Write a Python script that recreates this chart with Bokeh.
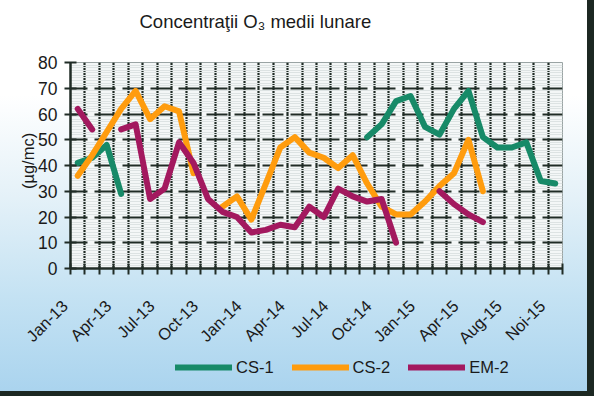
import math
import numpy as np
from bokeh.plotting import figure
from bokeh.layouts import column
from bokeh.models import FixedTicker, Legend, LegendItem, Range1d, ColumnDataSource
from bokeh.embed import file_html
from bokeh.resources import INLINE

# ---- data -------------------------------------------------------------
months = ["Jan-13", "Feb-13", "Mar-13", "Apr-13", "May-13", "Jun-13", "Jul-13", "Aug-13",
          "Sep-13", "Oct-13", "Nov-13", "Dec-13",
          "Jan-14", "Feb-14", "Mar-14", "Apr-14", "May-14", "Jun-14", "Jul-14", "Aug-14",
          "Sep-14", "Oct-14", "Nov-14", "Dec-14",
          "Jan-15", "Feb-15", "Mar-15", "Apr-15", "May-15", "Jul-15", "Aug-15", "Sep-15",
          "Oct-15", "Noi-15"]

cs1 = [41, 43, 48, 29, None, None, None, None, None, None, None, None,
       None, None, None, None, None, None, None, None,
       51, 56, 65, 67, 55, 52, 62, 69, 51, 47, 47, 49, 34, 33]
cs2 = [36, 44, 53, 62, 69, 58, 63, 61, 37, None, 24, 28,
       19, 33, 47, 51, 45, 43, 39, 44, 33, 24, 21, 21,
       26, 32, 37, 50, 30, None, None, None, None, None]
em2 = [62, 54, None, 54, 56, 27, 31, 49, 41, 27, 22, 20,
       14, 15, 17, 16, 24, 20, 31, 28, 26, 27, 10, None,
       None, 30, 25, 21, 18, None, None, None, None, None]

series_names = ["CS-1", "CS-2", "EM-2"]
series_colors = ["#178a68", "#ff9c0e", "#a3195f"]
y_ticks = [0, 10, 20, 30, 40, 50, 60, 70, 80]
title_text = "Concentra\u0163ii O\u2083 medii  lunare"
y_title = "\u00a0\u00a0(\u00b5g/mc)"

# ---- layout constants ---------------------------------------------------
FONT = "Liberation Sans"
DARK = "#202c26"
TXT = "#1a1a1a"
W = 594
H_TITLE = 44
H_MAIN = 312
H_LEG = 40
PAD = "\u00a0\u00a0"   # keeps rotated labels' ends just left of their tick

x = list(range(len(months)))
n = len(months)


def bare(fig):
    fig.border_fill_color = None
    fig.background_fill_color = None
    fig.outline_line_color = None
    fig.grid.visible = False


# ---- title strip ----------------------------------------------------------
pt = figure(width=W, height=H_TITLE, output_backend="svg", toolbar_location=None,
            x_axis_location=None, y_axis_location=None,
            x_range=Range1d(0, 1), y_range=Range1d(0, 1), min_border=0, title=title_text)
bare(pt)
pt.title.align = "left"
pt.title.offset = 69
pt.title.standoff = 17
pt.title.text_font = FONT
pt.title.text_font_size = "18.5px"
pt.title.text_font_style = "normal"
pt.title.text_color = TXT
pt.line([-2, -1], [-2, -2], line_alpha=0)

# ---- main chart -----------------------------------------------------------
p = figure(width=W, height=H_MAIN, output_backend="svg", toolbar_location=None,
           x_range=Range1d(-0.5, n - 0.5), y_range=Range1d(0, 80),
           min_border_left=70, min_border_right=32, min_border_top=18,
           min_border_bottom=88)
p.border_fill_color = None
p.background_fill_color = "#f4f7f7"
p.outline_line_color = "#9aa4a4"
p.outline_line_width = 1

boundaries = [i - 0.5 for i in range(n + 1)]
p.xgrid.ticker = FixedTicker(ticks=boundaries)
p.xgrid.grid_line_color = DARK
p.xgrid.grid_line_width = 2.2

p.ygrid.ticker = FixedTicker(ticks=y_ticks, minor_ticks=[v for v in range(0, 81) if v % 10])
p.ygrid.grid_line_color = DARK
p.ygrid.grid_line_width = 2.2
p.ygrid.grid_line_dash = "21 7"
p.ygrid.grid_line_dash_offset = 4
p.ygrid.minor_grid_line_color = "#dde3e3"
p.ygrid.minor_grid_line_width = 1

xa = p.xaxis[0]
label_idx = list(range(0, n, 3))
label_pos = [i - 0.45 for i in label_idx]
xa.ticker = FixedTicker(ticks=label_pos, minor_ticks=boundaries)
xa.major_label_overrides = {pos: months[i] + PAD for pos, i in zip(label_pos, label_idx)}
xa.major_label_orientation = math.pi / 4
xa.major_tick_line_color = None
xa.major_tick_out = 6
xa.major_label_standoff = 22
xa.minor_tick_in = 5
xa.minor_tick_out = 6
xa.minor_tick_line_color = DARK
xa.minor_tick_line_width = 2
xa.axis_line_color = DARK
xa.axis_line_width = 2.5
xa.major_label_text_font = FONT
xa.major_label_text_font_size = "16.5px"
xa.major_label_text_color = TXT

ya = p.yaxis[0]
ya.ticker = FixedTicker(ticks=y_ticks)
ya.minor_tick_line_color = None
ya.major_tick_in = 6
ya.major_tick_out = 6
ya.major_tick_line_color = DARK
ya.major_tick_line_width = 2
ya.axis_line_color = DARK
ya.axis_line_width = 2.5
ya.major_label_standoff = 7
ya.major_label_text_font = FONT
ya.major_label_text_font_size = "17.5px"
ya.major_label_text_color = TXT
ya.axis_label = y_title
ya.axis_label_standoff = -2
ya.axis_label_text_font = FONT
ya.axis_label_text_font_size = "16.5px"
ya.axis_label_text_font_style = "normal"
ya.axis_label_text_color = TXT

for name, vals, col in zip(series_names, [cs1, cs2, em2], series_colors):
    yv = [np.nan if v is None else float(v) for v in vals]
    src = ColumnDataSource(dict(x=x, y=yv))
    p.line("x", "y", source=src, line_color=col, line_width=6,
           line_cap="round", line_join="round")

# ---- legend strip -----------------------------------------------------------
pl = figure(width=W, height=H_LEG, output_backend="svg", toolbar_location=None,
            x_axis_location=None, y_axis_location=None,
            x_range=Range1d(0, 1), y_range=Range1d(0, 1), min_border=0)
bare(pl)
leg_renderers = [pl.line([-2, -1], [-2, -2], line_color=col, line_width=6, line_cap="round")
                 for col in series_colors]
legend = Legend(items=[LegendItem(label=nm, renderers=[r]) for nm, r in zip(series_names, leg_renderers)],
                orientation="horizontal", location=(105, 19))
legend.background_fill_alpha = 0
legend.border_line_color = None
legend.padding = 0
legend.margin = 0
legend.spacing = 18
legend.glyph_width = 57
legend.glyph_height = 20
legend.label_height = 20
legend.label_standoff = 4
legend.label_text_font = FONT
legend.label_text_font_size = "16.5px"
legend.label_text_color = TXT
pl.add_layout(legend)

layout = column(pt, p, pl, spacing=0, styles={
    "background": "linear-gradient(to bottom, #ffffff 0%, #ffffff 24%, #e4f1f8 50%, #c4e2f3 75%, #a9d3ee 100%)",
    "box-shadow": "inset -7px -5px 0 #1c2822",
})

open("out.html", "w").write(file_html(layout, INLINE))
